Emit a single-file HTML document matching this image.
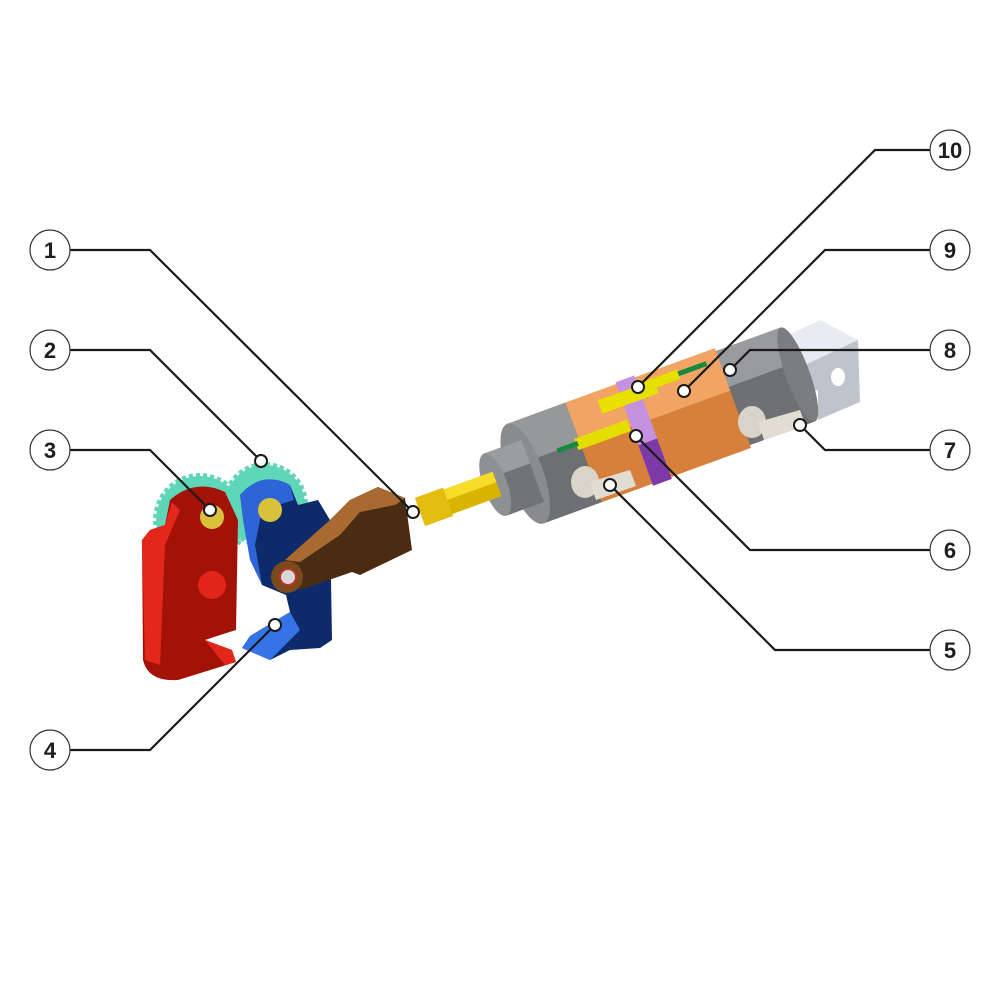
<!DOCTYPE html>
<html><head><style>html,body{margin:0;padding:0;background:#fff}svg{display:block}</style></head>
<body>
<svg width="1000" height="1000" viewBox="0 0 1000 1000" xmlns="http://www.w3.org/2000/svg">
<!-- bracket (rear) -->
<polygon points="752,352 820,320 858,340 790,372" fill="#e9ebf2"/>
<polygon points="790,372 858,340 860,402 818,420 818,390 790,400" fill="#bfc3cc"/>
<polygon points="752,352 790,372 790,400 760,410 752,392" fill="#d3d6de"/>
<ellipse cx="762" cy="356" rx="9" ry="6" fill="#8d929c"/>
<ellipse cx="838" cy="377" rx="7" ry="9" fill="#fff"/>
<!-- cylinder -->
<g transform="translate(420,512) rotate(-20)">
  <rect x="330" y="-50" width="72" height="100" fill="#6f7074"/>
  <rect x="330" y="-50" width="72" height="38" fill="#9a9b9e"/>
  <ellipse cx="402" cy="0" rx="12" ry="50" fill="#7c7d80"/>
  <rect x="170" y="-53" width="163" height="106" fill="#d6803c"/>
  <rect x="170" y="-53" width="163" height="45" fill="#f2a465"/>
  <rect x="112" y="-53" width="62" height="106" fill="#6e6f72"/>
  <rect x="112" y="-53" width="62" height="42" fill="#979899"/>
  <ellipse cx="112" cy="0" rx="18" ry="53" fill="#8a8b8e"/>
  <rect x="80" y="-33" width="40" height="66" fill="#727376"/>
  <rect x="80" y="-33" width="40" height="25" fill="#9c9d9f"/>
  <ellipse cx="80" cy="0" rx="12" ry="33" fill="#8f9093"/>
  <rect x="0" y="-13" width="82" height="26" fill="#d9b400"/>
  <rect x="0" y="-13" width="82" height="11" fill="#f7dc2a"/>
  <rect x="0" y="-15" width="30" height="30" fill="#e3bd10"/>
  <!-- purple band -->
  <rect x="228" y="-55" width="20" height="110" fill="#c592e0"/>
  <rect x="228" y="12" width="20" height="43" fill="#7d3aa6"/>
  <!-- yellow switches -->
  <rect x="205" y="-44" width="60" height="14" fill="#e8e000"/>
  <rect x="250" y="-46" width="40" height="10" fill="#e6e000"/>
  <rect x="170" y="-16" width="56" height="12" fill="#e3dd00"/>
  <rect x="290" y="-44" width="30" height="5" fill="#168a3c"/>
  <rect x="150" y="-13" width="22" height="5" fill="#168a3c"/>
</g>
<!-- fittings -->
<ellipse cx="585" cy="482" rx="14" ry="16" fill="#d9d4ca"/>
<path d="M590,482 L630,470 L636,486 L596,500 Z" fill="#e2ddd2"/>
<ellipse cx="752" cy="422" rx="14" ry="16" fill="#d9d4ca"/>
<path d="M758,422 L800,410 L806,426 L764,440 Z" fill="#e2ddd2"/>
<!-- gears -->
<circle cx="200" cy="520" r="44" fill="#5fd6b8" stroke="#5fd6b8" stroke-width="6" stroke-dasharray="4 3"/>
<circle cx="265" cy="505" r="40" fill="#5fd6b8" stroke="#5fd6b8" stroke-width="6" stroke-dasharray="4 3"/>
<!-- red jaw -->
<path d="M150,530 L165,525 L170,500 Q195,478 225,492 L238,520 L236,630 Q220,635 205,640 L232,650 L236,662 L178,680 Q148,682 143,660 L142,540 Z" fill="#a31206"/>
<path d="M150,530 L165,525 L172,502 L180,510 L165,545 L160,665 L145,660 L142,540 Z" fill="#e3271a"/>
<path d="M205,640 L232,650 L236,662 L225,665 Z" fill="#e3271a"/>
<circle cx="212" cy="585" r="14" fill="#e0261a"/>
<circle cx="212" cy="517" r="12" fill="#d8c23c"/>
<!-- blue jaw -->
<path d="M240,495 Q262,470 290,485 L298,505 L318,500 L330,520 L332,640 L320,648 L290,650 L270,660 L242,648 L250,636 L290,612 L286,595 L262,585 L248,540 Z" fill="#0d2a6a"/>
<path d="M240,495 Q262,470 290,485 L294,500 L262,510 L255,545 L262,585 L250,560 L243,520 Z" fill="#2e64d8"/>
<path d="M242,648 L250,636 L290,612 L300,630 L270,660 Z" fill="#3474e6"/>
<circle cx="270" cy="510" r="12" fill="#d8c23c"/>
<!-- brown link -->
<path d="M285,560 L330,520 L350,500 L378,487 L405,498 L412,550 L360,575 L352,572 L300,590 Z" fill="#4a2c12"/>
<path d="M330,520 L350,500 L378,487 L405,498 L395,505 L360,512 L340,535 L300,562 L285,560 Z" fill="#a86a30"/>
<circle cx="287" cy="577" r="16" fill="#7a4a1c"/>
<circle cx="288" cy="577" r="8" fill="#d8d8d8" stroke="#c0312a" stroke-width="2"/>
<!-- leaders -->
<g fill="none" stroke="#1a1a1a" stroke-width="2.2">
<polyline points="70,250 150,250 413,512"/>
<polyline points="70,350 150,350 261,461"/>
<polyline points="70,450 150,450 210,510"/>
<polyline points="70,750 150,750 275,625"/>
<polyline points="930,650 775,650 610,485"/>
<polyline points="930,550 750,550 636,436"/>
<polyline points="930,450 825,450 800,425"/>
<polyline points="930,350 750,350 730,370"/>
<polyline points="930,250 825,250 684,391"/>
<polyline points="930,150 875,150 638,387"/>
</g>
<g fill="#fff" stroke="#1a1a1a" stroke-width="2">
<circle cx="413" cy="512" r="6"/><circle cx="261" cy="461" r="6"/><circle cx="210" cy="510" r="6"/>
<circle cx="275" cy="625" r="6"/><circle cx="610" cy="485" r="6"/><circle cx="636" cy="436" r="6"/>
<circle cx="800" cy="425" r="6"/><circle cx="730" cy="370" r="6"/><circle cx="684" cy="391" r="6"/>
<circle cx="638" cy="387" r="6"/>
</g>
<g fill="#fff" stroke="#333" stroke-width="1.2">
<circle cx="50" cy="250" r="20"/><circle cx="50" cy="350" r="20"/><circle cx="50" cy="450" r="20"/><circle cx="50" cy="750" r="20"/>
<circle cx="950" cy="150" r="20"/><circle cx="950" cy="250" r="20"/><circle cx="950" cy="350" r="20"/><circle cx="950" cy="450" r="20"/><circle cx="950" cy="550" r="20"/><circle cx="950" cy="650" r="20"/>
</g>
<g font-family="Liberation Sans, sans-serif" font-weight="bold" font-size="22" fill="#1e1e1e" text-anchor="middle">
<text x="50" y="258">1</text><text x="50" y="358">2</text><text x="50" y="458">3</text><text x="50" y="758">4</text>
<text x="950" y="158">10</text><text x="950" y="258">9</text><text x="950" y="358">8</text><text x="950" y="458">7</text><text x="950" y="558">6</text><text x="950" y="658">5</text>
</g>
</svg>
</body></html>
